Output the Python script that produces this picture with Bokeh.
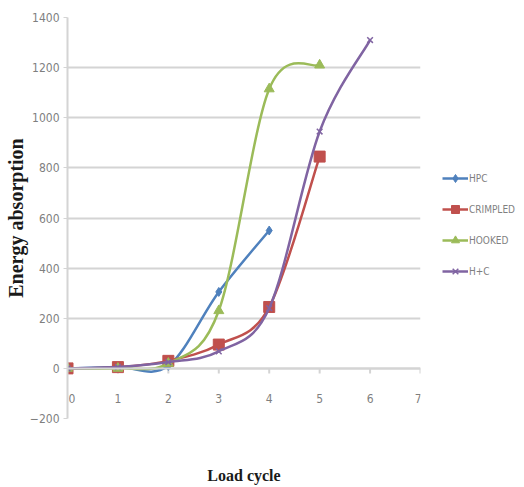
import numpy as np
from bokeh.plotting import figure
from bokeh.models import Legend, LegendItem, FixedTicker, Span, ColumnDataSource
from bokeh.core.properties import value
from bokeh.embed import file_html
from bokeh.resources import INLINE

# Energy absorption per load cycle for each fibre type
load_cycle = [0, 1, 2, 3, 4, 5, 6]
hpc = [0, 5, 10, 305, 550]
crimpled = [0, 5, 30, 95, 245, 845]
hooked = [0, 0, 20, 230, 1115, 1210]
h_plus_c = [0, 5, 25, 68, 240, 945, 1310]

series_names = ["HPC", "CRIMPLED", "HOOKED", "H+C"]
series_values = [hpc, crimpled, hooked, h_plus_c]
series_colors = ["#4F81BD", "#C0504D", "#9BBB59", "#8064A2"]
series_markers = ["diamond", "square", "triangle", "x"]
series_sizes = [9, 11, 10, 8]

x_ticks = [0, 1, 2, 3, 4, 5, 6, 7]
y_ticks = [-200, 0, 200, 400, 600, 800, 1000, 1200, 1400]

TICK_FONT = "'Liberation Sans Narrow', 'DejaVu Sans Condensed', sans-serif"
GREY_TEXT = "#7f7f7f"
GRID = "#d4d4d4"


def smooth_pieces(xs, ys):
    """Cubic Bezier pieces through every point (Catmull-Rom tangents)."""
    pts = np.column_stack([xs, ys]).astype(float)
    n = len(pts)
    d = {k: [] for k in ("x0", "y0", "x1", "y1", "cx0", "cy0", "cx1", "cy1")}
    for i in range(n - 1):
        a, b = pts[i], pts[i + 1]
        prev = pts[i - 1] if i > 0 else a
        nxt = pts[i + 2] if i + 2 < n else b
        c0 = a + (b - prev) / 6.0
        c1 = b - (nxt - a) / 6.0
        d["x0"].append(a[0]); d["y0"].append(a[1])
        d["x1"].append(b[0]); d["y1"].append(b[1])
        d["cx0"].append(c0[0]); d["cy0"].append(c0[1])
        d["cx1"].append(c1[0]); d["cy1"].append(c1[1])
    return d


p = figure(frame_width=353, frame_height=401, x_range=(0, 7), y_range=(-200, 1400),
           output_backend="svg", toolbar_location=None,
           min_border_left=67, min_border_right=104,
           min_border_top=17, min_border_bottom=69)
p.outline_line_color = None
p.background_fill_color = "white"
p.border_fill_color = "white"

# horizontal gridlines
p.xgrid.visible = False
p.ygrid.ticker = FixedTicker(ticks=y_ticks)
p.ygrid.grid_line_color = GRID
p.ygrid.grid_line_width = 2

# value axis on the left
p.yaxis.ticker = FixedTicker(ticks=y_ticks)
p.yaxis.axis_line_color = GRID
p.yaxis.axis_line_width = 2
p.yaxis.major_tick_line_color = GRID
p.yaxis.major_tick_out = 4
p.yaxis.major_tick_in = 0
p.yaxis.minor_tick_line_color = None
p.yaxis.major_label_standoff = 4
p.yaxis.major_label_text_font = TICK_FONT
p.yaxis.major_label_text_font_size = "12px"
p.yaxis.major_label_text_color = GREY_TEXT
p.yaxis.axis_label = "Energy absorption"
p.yaxis.axis_label_text_font = "Liberation Serif"
p.yaxis.axis_label_text_font_style = "bold"
p.yaxis.axis_label_text_font_size = "20px"
p.yaxis.axis_label_text_color = "#1a1a1a"
p.yaxis.axis_label_standoff = 0

# bottom axis carries only the title; the category axis sits at y = 0
p.xaxis.ticker = FixedTicker(ticks=[])
p.xaxis.axis_line_color = None
p.xaxis.major_tick_line_color = None
p.xaxis.minor_tick_line_color = None
p.xaxis.axis_label = "Load cycle"
p.xaxis.axis_label_text_font = "Liberation Serif"
p.xaxis.axis_label_text_font_style = "bold"
p.xaxis.axis_label_text_font_size = "16px"
p.xaxis.axis_label_text_color = "#1a1a1a"
p.xaxis.axis_label_standoff = 48

p.add_layout(Span(location=0, dimension="width", line_color=GRID, line_width=2))
px_per_unit = 0.25  # vertical pixels per data unit at this size
tick_len = 5 / px_per_unit
p.segment(x0=x_ticks, y0=[0] * len(x_ticks), x1=x_ticks, y1=[-tick_len] * len(x_ticks),
          line_color=GRID, line_width=2)
p.text(x=x_ticks[1:-1], y=[0] * (len(x_ticks) - 2), text=[str(t) for t in x_ticks[1:-1]],
       y_offset=30, text_align="center", text_baseline="middle",
       text_font=value(TICK_FONT), text_font_size="12px", text_color=GREY_TEXT)
# end labels hug the frame edges so they stay inside it
p.text(x=[x_ticks[0]], y=[0], text=[str(x_ticks[0])], y_offset=30, x_offset=1,
       text_align="left", text_baseline="middle",
       text_font=value(TICK_FONT), text_font_size="12px", text_color=GREY_TEXT)
p.text(x=[x_ticks[-1]], y=[0], text=[str(x_ticks[-1])], y_offset=30, x_offset=1,
       text_align="right", text_baseline="middle",
       text_font=value(TICK_FONT), text_font_size="12px", text_color=GREY_TEXT)

items = []
for name, vals, col, mk, sz in zip(series_names, series_values, series_colors,
                                   series_markers, series_sizes):
    xs = load_cycle[:len(vals)]
    src = ColumnDataSource(smooth_pieces(xs, vals))
    p.bezier(x0="x0", y0="y0", x1="x1", y1="y1", cx0="cx0", cy0="cy0",
             cx1="cx1", cy1="cy1", source=src, line_color=col, line_width=2.5)
    key = p.line(x=[xs[0]], y=[vals[0]], line_color=col, line_width=2.5)
    if mk == "x":
        mark = p.scatter(xs, vals, marker=mk, size=sz, line_color=col, line_width=1.5)
    else:
        mark = p.scatter(xs, vals, marker=mk, size=sz, fill_color=col, line_color=col)
    items.append(LegendItem(label=name, renderers=[key, mark]))

legend = Legend(items=items, location=(22, 137), margin=0, padding=0,
                glyph_width=26, glyph_height=20, label_height=20, spacing=11,
                label_standoff=1, label_text_font=TICK_FONT,
                label_text_font_size="10px", label_text_color=GREY_TEXT,
                border_line_color=None, background_fill_alpha=0)
p.add_layout(legend, "right")

open("out.html", "w").write(file_html(p, INLINE))
